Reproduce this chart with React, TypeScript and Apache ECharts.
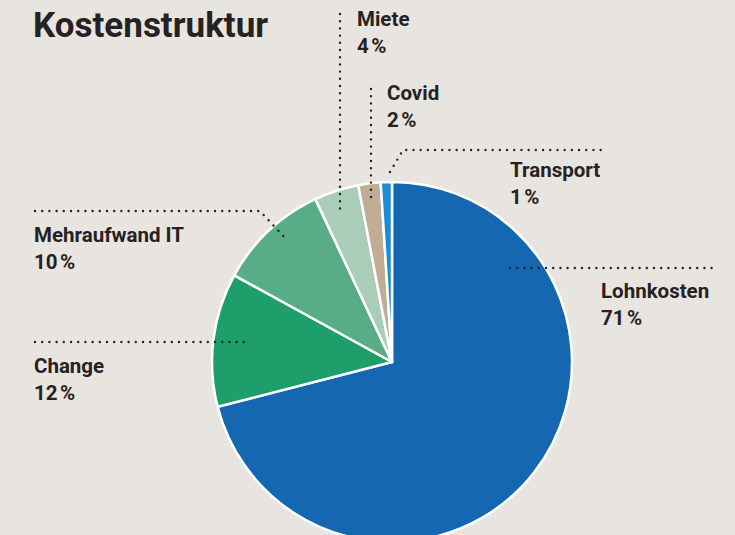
import React, { useEffect, useRef } from "react";
import * as echarts from "echarts";

const categories = ["Lohnkosten", "Change", "Mehraufwand IT", "Miete", "Covid", "Transport"];
const values = [71, 12, 10, 4, 2, 1];
const colors = ["#1467b0", "#1e9e6b", "#58ac86", "#a9cdb8", "#bfae95", "#1c8bd0"];

// label layout (text anchor, dotted leader line points)
const labelAt: [number, number][] = [
  [601, 291],
  [34, 366],
  [34, 235],
  [357, 19],
  [387, 93],
  [510, 170],
];
const leaders: [number, number][][] = [
  [[510, 268], [718, 268]],
  [[35, 342], [245, 342]],
  [[35, 211], [260, 211], [286, 239]],
  [[340, 14], [340, 212]],
  [[371, 89], [371, 200]],
  [[390, 172], [403, 150], [606, 150]],
];

const TEXT = "#262223";
const FONT = "Roboto";

export default function App() {
  const ref = useRef<HTMLDivElement>(null);
  useEffect(() => {
    if (!ref.current) return;
    const chart = echarts.init(ref.current, null, { renderer: "svg" });
    const graphics: any[] = [];
    categories.forEach((c, i) => {
      graphics.push({
        type: "polyline",
        z: 100,
        shape: { points: leaders[i] },
        style: { stroke: TEXT, lineWidth: 2.4, lineDash: [0, 7.2], lineCap: "round", fill: null },
      });
      graphics.push({
        type: "text",
        z: 100,
        x: labelAt[i][0],
        y: labelAt[i][1] + 13,
        style: {
          text: `{n|${c}}\n{p|${values[i]}\u202f%}`,
          verticalAlign: "middle",
          rich: {
            n: { fontFamily: FONT, fontWeight: "bold", fontSize: 20.5, fill: TEXT, lineHeight: 27 },
            p: { fontFamily: FONT, fontWeight: "bold", fontSize: 20.5, fill: TEXT, lineHeight: 27 },
          },
        },
      });
    });
    chart.setOption({
      animation: false,
      backgroundColor: "#e8e4df",
      title: {
        text: "Kostenstruktur",
        left: 28,
        top: 3,
        textStyle: { fontFamily: FONT, fontWeight: "bold", fontSize: 35, color: TEXT },
      },
      series: [
        {
          type: "pie",
          center: [392, 362],
          radius: 180,
          startAngle: 90,
          clockwise: true,
          label: { show: false },
          labelLine: { show: false },
          emphasis: { disabled: true },
          itemStyle: { borderColor: "#ffffff", borderWidth: 2.5 },
          data: categories.map((c, i) => ({ name: c, value: values[i], itemStyle: { color: colors[i] } })),
        },
      ],
      graphic: graphics,
    });
    return () => chart.dispose();
  }, []);
  return (
    <div
      ref={ref}
      style={{ position: "fixed", left: 0, top: 0, width: 735, height: 535 }}
    />
  );
}
